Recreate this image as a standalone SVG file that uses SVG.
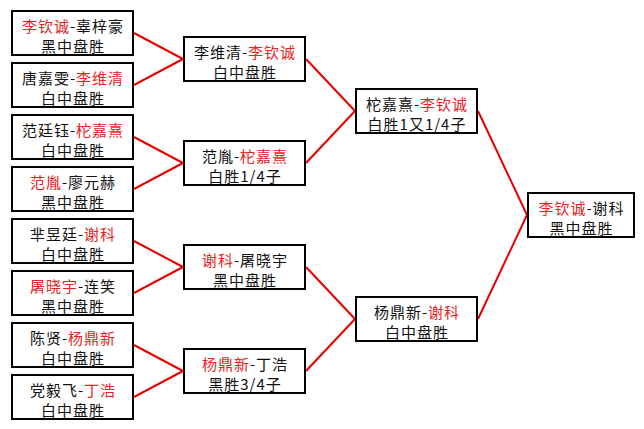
<svg xmlns="http://www.w3.org/2000/svg" width="644" height="429" viewBox="0 0 644 429">
<style>
.box{fill:#fff;stroke:#000;stroke-width:2}
text{font-family:"Noto Sans CJK SC","Noto Sans",sans-serif;font-size:15px;letter-spacing:1px;fill:#111;text-anchor:middle}
.r{fill:#e62222}
.conn line{stroke:#e60000;stroke-width:2}
</style>
<rect width="644" height="429" fill="#fff"/>
<g class="conn">
<line x1="134" y1="33" x2="183" y2="59"/>
<line x1="134" y1="85" x2="183" y2="59"/>
<line x1="134" y1="137" x2="183" y2="163"/>
<line x1="134" y1="189" x2="183" y2="163"/>
<line x1="134" y1="241" x2="183" y2="267"/>
<line x1="134" y1="293" x2="183" y2="267"/>
<line x1="134" y1="345" x2="183" y2="371"/>
<line x1="134" y1="397" x2="183" y2="371"/>
<line x1="306" y1="59" x2="355" y2="111"/>
<line x1="306" y1="163" x2="355" y2="111"/>
<line x1="306" y1="267" x2="355" y2="319"/>
<line x1="306" y1="371" x2="355" y2="319"/>
<line x1="478" y1="111" x2="527" y2="215"/>
<line x1="478" y1="319" x2="527" y2="215"/>
</g>
<g id="m1"><rect class="box" x="12" y="11" width="121" height="44"/>
<text x="73" y="31.5"><tspan class="r">李钦诚</tspan>-辜梓豪<tspan x="73" dy="20.5">黑中盘胜</tspan></text></g>
<g id="m2"><rect class="box" x="12" y="63" width="121" height="44"/>
<text x="73" y="83.5">唐嘉雯-<tspan class="r">李维清</tspan><tspan x="73" dy="20.5">白中盘胜</tspan></text></g>
<g id="m3"><rect class="box" x="12" y="115" width="121" height="44"/>
<text x="73" y="135.5">范廷钰-<tspan class="r">柁嘉熹</tspan><tspan x="73" dy="20.5">白中盘胜</tspan></text></g>
<g id="m4"><rect class="box" x="12" y="167" width="121" height="44"/>
<text x="73" y="187.5"><tspan class="r">范胤</tspan>-廖元赫<tspan x="73" dy="20.5">黑中盘胜</tspan></text></g>
<g id="m5"><rect class="box" x="12" y="219" width="121" height="44"/>
<text x="73" y="239.5">芈昱廷-<tspan class="r">谢科</tspan><tspan x="73" dy="20.5">白中盘胜</tspan></text></g>
<g id="m6"><rect class="box" x="12" y="271" width="121" height="44"/>
<text x="73" y="291.5"><tspan class="r">屠晓宇</tspan>-连笑<tspan x="73" dy="20.5">黑中盘胜</tspan></text></g>
<g id="m7"><rect class="box" x="12" y="323" width="121" height="44"/>
<text x="73" y="343.5">陈贤-<tspan class="r">杨鼎新</tspan><tspan x="73" dy="20.5">白中盘胜</tspan></text></g>
<g id="m8"><rect class="box" x="12" y="375" width="121" height="44"/>
<text x="73" y="395.5">党毅飞-<tspan class="r">丁浩</tspan><tspan x="73" dy="20.5">白中盘胜</tspan></text></g>
<g id="q1"><rect class="box" x="184" y="37" width="121" height="44"/>
<text x="245" y="57.5">李维清-<tspan class="r">李钦诚</tspan><tspan x="245" dy="20.5">白中盘胜</tspan></text></g>
<g id="q2"><rect class="box" x="184" y="141" width="121" height="44"/>
<text x="245" y="161.5">范胤-<tspan class="r">柁嘉熹</tspan><tspan x="245" dy="20.5">白胜1/4子</tspan></text></g>
<g id="q3"><rect class="box" x="184" y="245" width="121" height="44"/>
<text x="245" y="265.5"><tspan class="r">谢科</tspan>-屠晓宇<tspan x="245" dy="20.5">黑中盘胜</tspan></text></g>
<g id="q4"><rect class="box" x="184" y="349" width="121" height="44"/>
<text x="245" y="369.5"><tspan class="r">杨鼎新</tspan>-丁浩<tspan x="245" dy="20.5">黑胜3/4子</tspan></text></g>
<g id="s1"><rect class="box" x="356" y="89" width="121" height="44"/>
<text x="417" y="109.5">柁嘉熹-<tspan class="r">李钦诚</tspan><tspan x="417" dy="20.5">白胜1又1/4子</tspan></text></g>
<g id="s2"><rect class="box" x="356" y="297" width="121" height="44"/>
<text x="417" y="317.5">杨鼎新-<tspan class="r">谢科</tspan><tspan x="417" dy="20.5">白中盘胜</tspan></text></g>
<g id="f"><rect class="box" x="528" y="193" width="106" height="44"/>
<text x="581.5" y="213.5"><tspan class="r">李钦诚</tspan>-谢科<tspan x="581.5" dy="20.5">黑中盘胜</tspan></text></g>
</svg>
